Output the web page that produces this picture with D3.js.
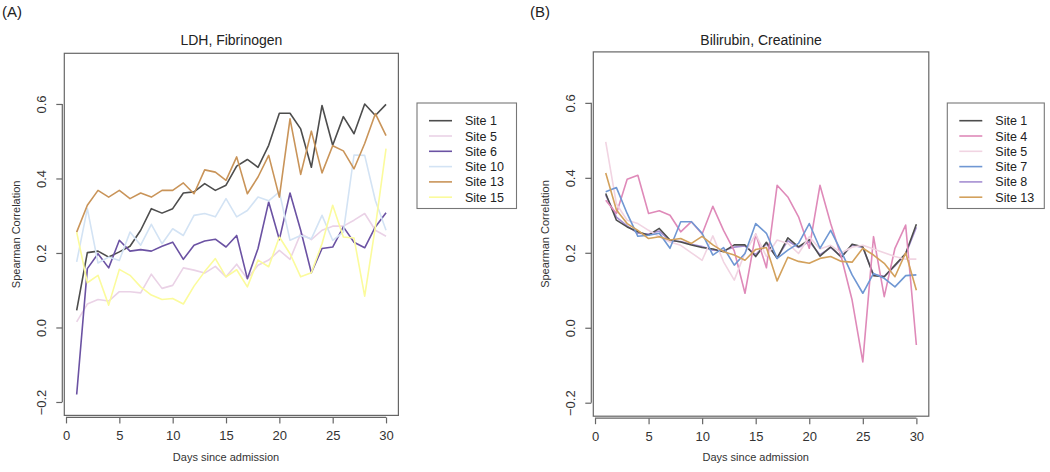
<!DOCTYPE html>
<html><head><meta charset="utf-8">
<script src="https://cdn.jsdelivr.net/npm/d3@7"></script>
<style>
html,body{margin:0;padding:0;background:#fff;}
svg{display:block;font-family:"Liberation Sans",Arial,Helvetica,sans-serif;}
</style></head>
<body><svg id="c" width="1050" height="472"></svg>
<script>
const days = [1,2,3,4,5,6,7,8,9,10,11,12,13,14,15,16,17,18,19,20,21,22,23,24,25,26,27,28,29,30];
const yTicks = [-0.2, 0.0, 0.2, 0.4, 0.6];
const xTicks = [0, 5, 10, 15, 20, 25, 30];

// Panel A: LDH, Fibrinogen
const sitesA = ["Site 1","Site 5","Site 6","Site 10","Site 13","Site 15"];
const a_site1  = [0.046,0.201,0.205,0.189,0.203,0.218,0.261,0.319,0.307,0.319,0.361,0.364,0.386,0.368,0.382,0.433,0.451,0.430,0.489,0.575,0.575,0.533,0.430,0.596,0.489,0.566,0.520,0.600,0.569,0.599];
const a_site5  = [0.015,0.063,0.075,0.071,0.096,0.096,0.093,0.143,0.105,0.113,0.160,0.154,0.146,0.164,0.136,0.170,0.131,0.167,0.181,0.207,0.183,0.252,0.236,0.261,0.272,0.272,0.288,0.306,0.261,0.245];
const a_site6  = [-0.180,0.158,0.198,0.160,0.234,0.205,0.209,0.205,0.218,0.229,0.183,0.221,0.232,0.237,0.216,0.247,0.131,0.212,0.337,0.236,0.361,0.261,0.147,0.212,0.216,0.270,0.229,0.214,0.270,0.308];
const a_site10 = [0.176,0.319,0.173,0.189,0.180,0.256,0.221,0.277,0.225,0.265,0.247,0.301,0.306,0.297,0.346,0.297,0.314,0.350,0.340,0.364,0.234,0.247,0.238,0.301,0.234,0.256,0.463,0.462,0.341,0.261];
const a_site13 = [0.256,0.328,0.368,0.350,0.368,0.346,0.361,0.350,0.368,0.368,0.388,0.359,0.423,0.417,0.395,0.458,0.359,0.404,0.462,0.350,0.560,0.411,0.527,0.415,0.488,0.474,0.426,0.494,0.574,0.515];
const a_site15 = [0.256,0.120,0.140,0.060,0.156,0.140,0.109,0.087,0.075,0.078,0.063,0.111,0.150,0.185,0.136,0.155,0.109,0.181,0.163,0.243,0.198,0.136,0.147,0.225,0.328,0.243,0.240,0.084,0.270,0.480];
const colorsA = ["#4d4d4d","#ead2e6","#6b52a3","#d3e3f4","#c99459","#fbfb9c"];

// Panel B: Bilirubin, Creatinine
const sitesB = ["Site 1","Site 4","Site 5","Site 7","Site 8","Site 13"];
const b_site1  = [0.358,0.287,0.269,0.256,0.247,0.265,0.234,0.229,0.221,0.214,0.210,0.203,0.221,0.221,0.190,0.228,0.185,0.240,0.216,0.235,0.191,0.216,0.188,0.223,0.216,0.139,0.136,0.167,0.198,0.276];
const b_site4  = [0.340,0.305,0.396,0.407,0.305,0.312,0.300,0.256,0.283,0.250,0.324,0.260,0.205,0.092,0.250,0.160,0.380,0.349,0.296,0.212,0.380,0.278,0.188,0.074,-0.091,0.243,0.083,0.212,0.274,-0.046];
const b_site5  = [0.496,0.330,0.287,0.278,0.260,0.243,0.229,0.220,0.200,0.180,0.245,0.176,0.127,0.200,0.250,0.190,0.234,0.225,0.198,0.243,0.210,0.220,0.200,0.215,0.220,0.210,0.200,0.190,0.183,0.183];
const b_site7  = [0.363,0.374,0.305,0.244,0.247,0.252,0.212,0.283,0.283,0.252,0.194,0.214,0.167,0.198,0.278,0.252,0.185,0.207,0.225,0.278,0.212,0.260,0.203,0.141,0.092,0.145,0.132,0.109,0.139,0.141];
const b_site8  = [0.354,0.295,0.272,0.252,0.250,0.258,0.232,0.230,0.223,0.217,0.207,0.206,0.215,0.218,0.195,0.224,0.187,0.232,0.214,0.230,0.195,0.214,0.190,0.220,0.214,0.142,0.137,0.165,0.196,0.268];
const b_site13 = [0.413,0.314,0.278,0.260,0.238,0.243,0.234,0.238,0.225,0.244,0.221,0.203,0.194,0.180,0.209,0.214,0.125,0.188,0.177,0.172,0.185,0.190,0.177,0.175,0.212,0.194,0.172,0.136,0.200,0.100];
const colorsB = ["#4d4d4d","#df8ab9","#f1d4e2","#6f97d3","#a58fd2","#d3a15c"];

const svg = d3.select("#c");

function drawPanel(o){
  const g = svg.append("g");
  const x = d3.scaleLinear().domain([-0.16, 31.16]).range([o.left, o.right]);
  const y = d3.scaleLinear().domain([-0.236, 0.736]).range([o.bottom, o.top]);

  g.append("text").attr("x", o.letterX).attr("y", 17).attr("font-size", 15).attr("fill", "#222").text(o.letter);
  g.append("text").attr("x", (o.left + o.right)/2).attr("y", 45).attr("text-anchor","middle")
    .attr("font-size", 14).attr("fill","#222").text(o.title);

  const line = d3.line().x((d,i)=>x(days[i])).y(d=>y(d));
  const order = o.drawOrder;
  order.forEach(i=>{
    g.append("path").datum(o.series[i]).attr("d", line).attr("fill","none")
      .attr("stroke", o.colors[i]).attr("stroke-width", 1.6).attr("stroke-linejoin","round");
  });

  g.append("rect").attr("x", o.left).attr("y", o.top).attr("width", o.right-o.left).attr("height", o.bottom-o.top)
    .attr("fill","none").attr("stroke","#666").attr("stroke-width",1.2);

  const xa = g.append("g").attr("transform", `translate(0,${o.bottom+2})`)
    .call(d3.axisBottom(x).tickValues(xTicks).tickSize(6).tickPadding(4).tickFormat(d3.format("d")));
  xa.select(".domain").attr("d", `M${x(0)},0H${x(30)}`).attr("stroke","#666").attr("stroke-width",1.2);
  xa.selectAll(".tick line").attr("stroke","#666").attr("stroke-width",1.2);
  xa.selectAll(".tick text").attr("font-size",13).attr("fill","#333").attr("font-family","Liberation Sans, Arial, sans-serif").attr("dy","0.95em");

  const ya = g.append("g").attr("transform", `translate(${o.left-2},0)`)
    .call(d3.axisLeft(y).tickValues(yTicks).tickSize(6).tickFormat(d3.format(".1f")));
  ya.select(".domain").attr("d", `M0,${y(-0.2)}V${y(0.6)}`).attr("stroke","#666").attr("stroke-width",1.2);
  ya.selectAll(".tick line").attr("stroke","#666").attr("stroke-width",1.2);
  ya.selectAll(".tick text")
    .attr("font-size",13).attr("fill","#333").attr("font-family","Liberation Sans, Arial, sans-serif")
    .attr("x", null).attr("dy", null).attr("text-anchor","middle")
    .attr("transform", `translate(-16,0) rotate(-90)`);

  g.append("text").attr("x", (x(0)+x(30))/2).attr("y", 461).attr("text-anchor","middle")
    .attr("font-size", 11).attr("fill","#333").text("Days since admission");
  g.append("text").attr("transform", `translate(${o.left-44},${(o.top+o.bottom)/2}) rotate(-90)`)
    .attr("text-anchor","middle").attr("font-size", 11).attr("fill","#333").text("Spearman Correlation");

  const lg = g.append("g");
  lg.append("rect").attr("x", o.legX).attr("y", 103).attr("width", o.legW).attr("height", 105.5)
    .attr("fill","#fff").attr("stroke","#777").attr("stroke-width",1.1);
  o.names.forEach((n,i)=>{
    const yy = 120.7 + i*15.3;
    lg.append("line").attr("x1", o.legX+12).attr("x2", o.legX+35).attr("y1", yy).attr("y2", yy)
      .attr("stroke", o.colors[i]).attr("stroke-width", 1.6);
    lg.append("text").attr("x", o.legX+48).attr("y", yy+4.5).attr("font-size", 12.5).attr("fill","#222").text(n);
  });
}

drawPanel({letter:"(A)", letterX:2, title:"LDH, Fibrinogen", left:64.3, right:398.4, top:53.3, bottom:415.4,
  series:[a_site1,a_site5,a_site6,a_site10,a_site13,a_site15], colors:colorsA, names:sitesA, legX:417, legW:99.5,
  drawOrder:[0,1,2,3,4,5]});
drawPanel({letter:"(B)", letterX:530, title:"Bilirubin, Creatinine", left:593.3, right:928.8, top:51.9, bottom:416.2,
  series:[b_site1,b_site4,b_site5,b_site7,b_site8,b_site13], colors:colorsB, names:sitesB, legX:947.3, legW:97,
  drawOrder:[4,0,1,2,3,5]});
</script></body></html>
